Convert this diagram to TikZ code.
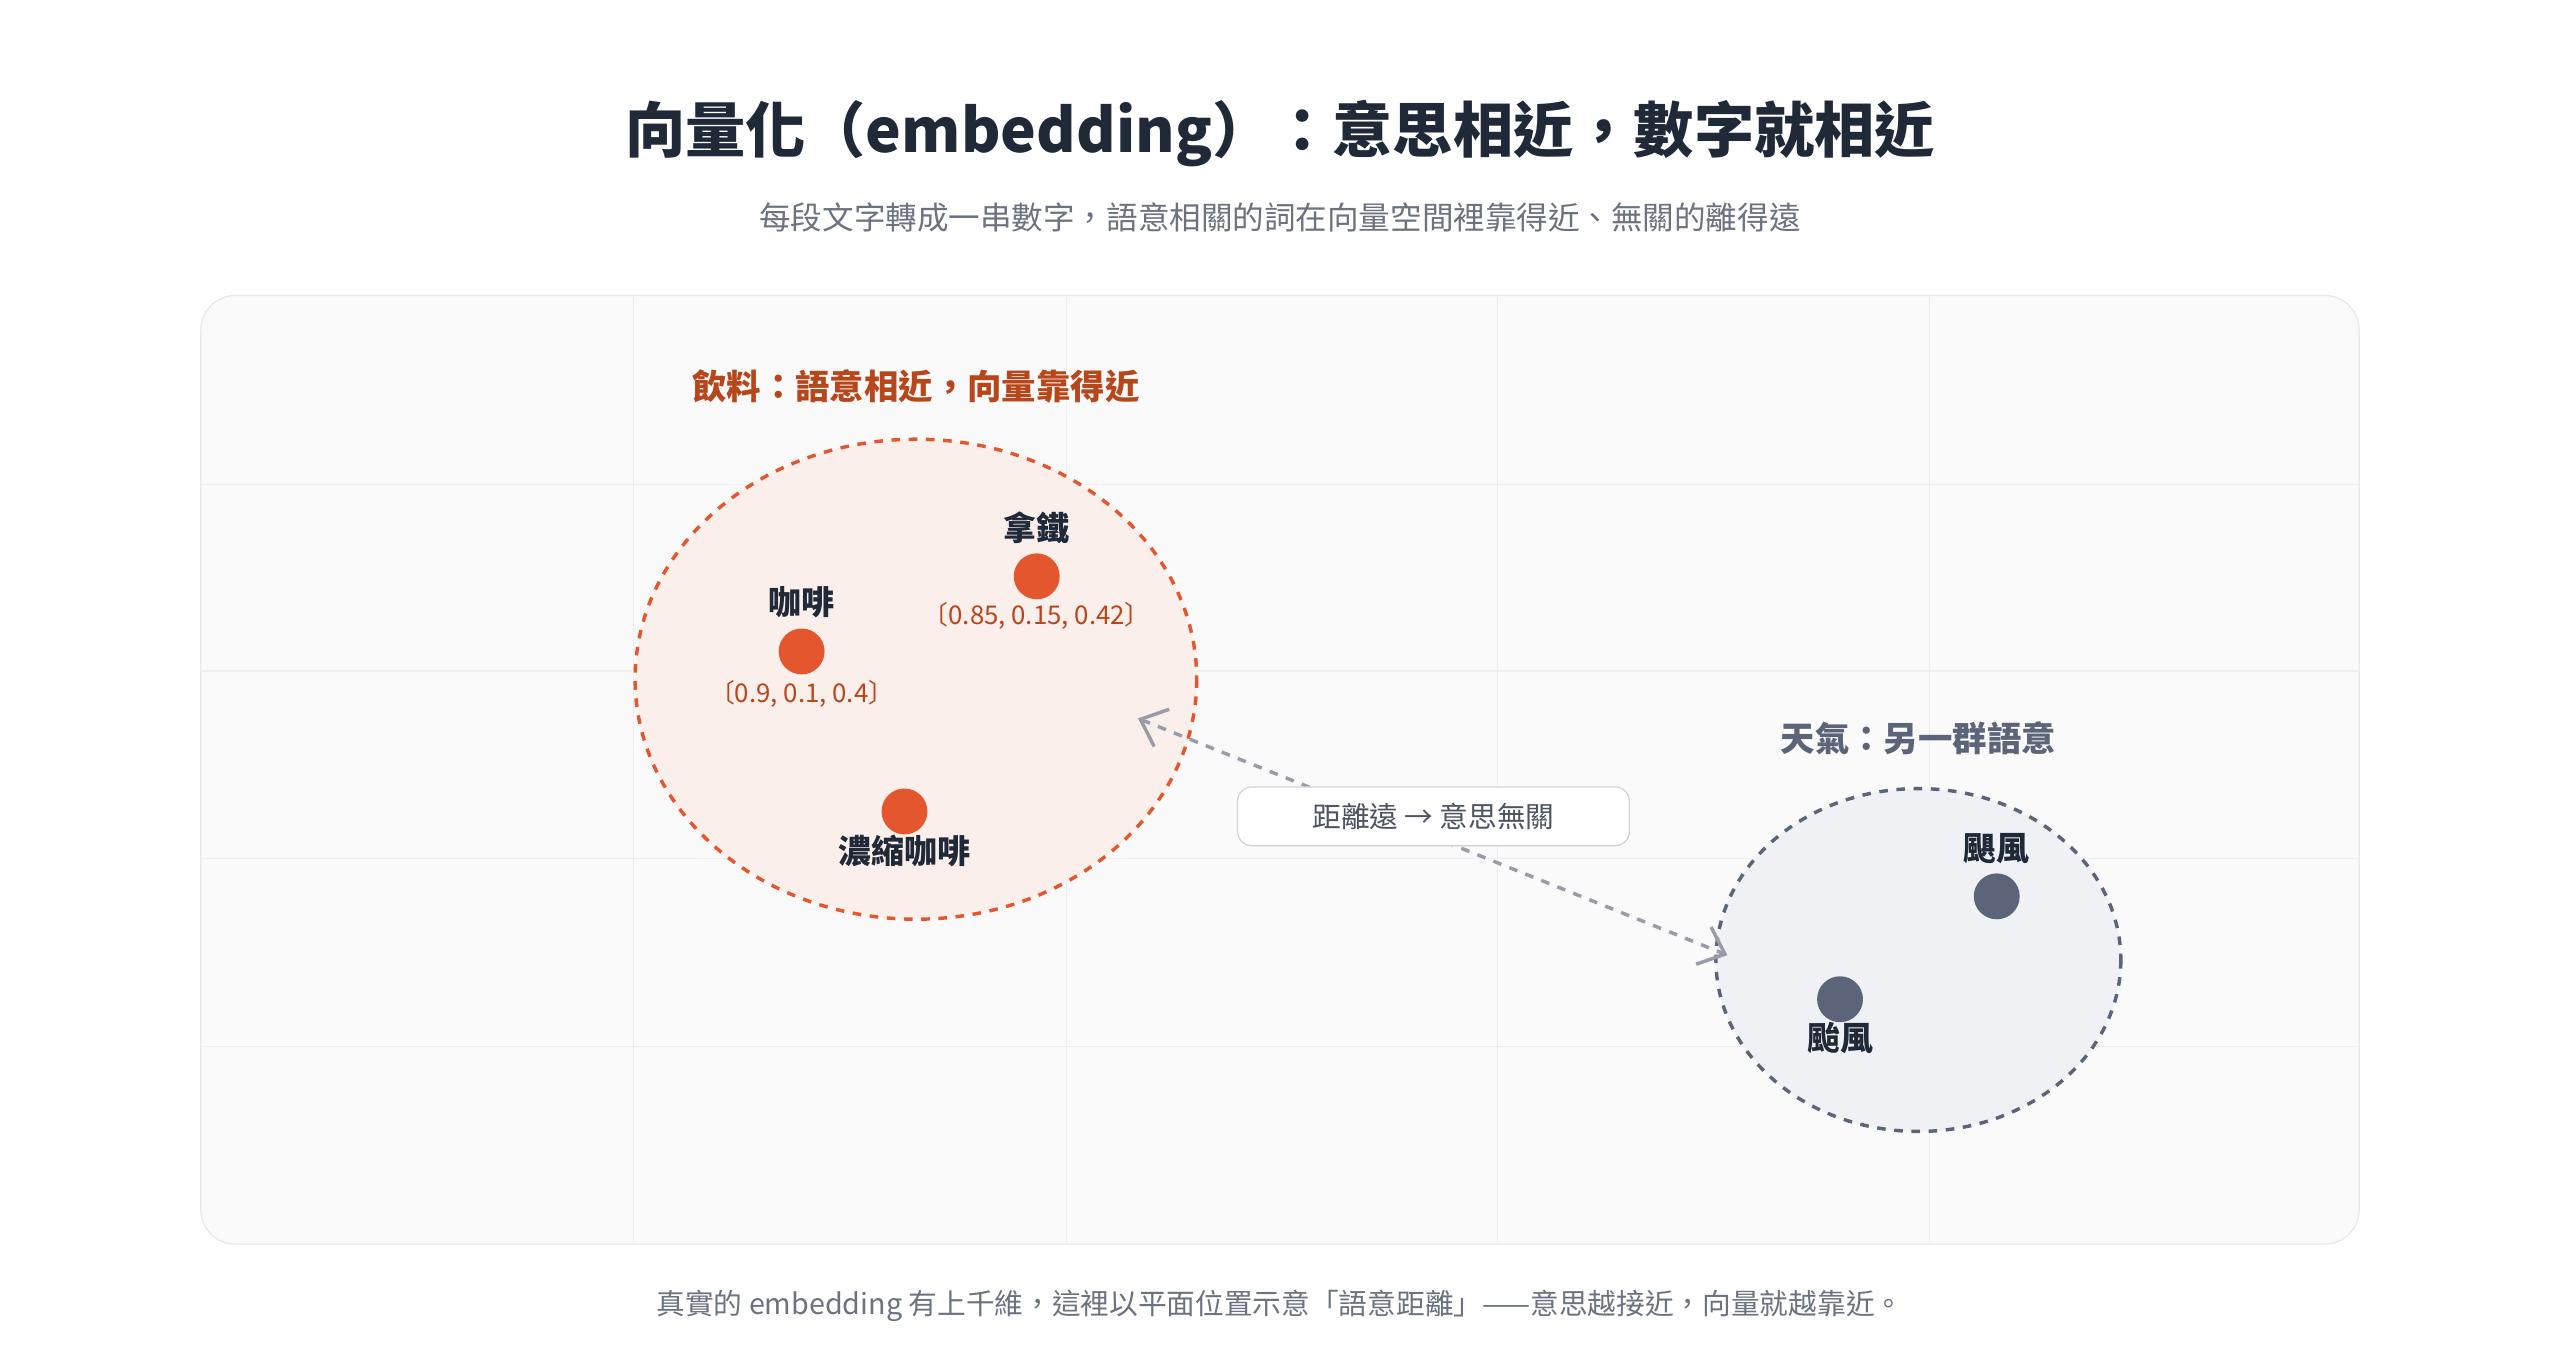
\documentclass[tikz,border=0pt]{standalone}
\usepackage{fontspec}
\setmainfont{Noto Sans CJK TC}
\usetikzlibrary{arrows.meta,calc}
\definecolor{ink}{HTML}{1F2937}
\definecolor{sub}{HTML}{6B7280}
\definecolor{hot}{HTML}{E4572E}
\definecolor{hotdark}{HTML}{B8461B}
\definecolor{hotfill}{HTML}{FBEFEB}
\definecolor{cool}{HTML}{5B6478}
\definecolor{coolfill}{HTML}{EFF1F4}
\definecolor{panel}{HTML}{FAFAFA}
\definecolor{rim}{HTML}{E5E7EB}
\tikzset{
 dot/.style={circle, inner sep=0, minimum size=16},
 word/.style={font=\fontsize{11.5}{12}\selectfont\bfseries, text=ink},
 vec/.style={font=\fontsize{9}{10}\selectfont, text=hotdark}
}
\begin{document}
\begin{tikzpicture}[x=0.02cm,y=-0.02cm]
\useasboundingbox (0,0) rectangle (1568,826);
\fill[white] (0,0) rectangle (1568,826);
\node[font=\fontsize{21}{23}\selectfont\bfseries, text=ink] (title) at (784,82) {向量化（embedding）：意思相近，數字就相近};
\node[font=\fontsize{11}{13}\selectfont, text=sub] (subtitle) at (784,133) {每段文字轉成一串數字，語意相關的詞在向量空間裡靠得近、無關的離得遠};
% panel and grid
\draw[rim, fill=panel, rounded corners=12] (123,181) rectangle (1445,762);
\foreach \x in {388,653,917,1182} {
 \draw[rim!70] (\x,182) --++(0,579);
}
\foreach \y in {297,411,526,641} {
 \draw[rim!70] (124,\y) --++(1320,0);
}
% drinks cluster
\draw[hot, very thick, dashed, fill=hotfill] (561,416) ellipse [x radius=172, y radius=147];
\node[font=\fontsize{12}{13}\selectfont\bfseries, text=hotdark] (drinks) at (561,237) {飲料：語意相近，向量靠得近};
\node[dot, fill=hot] (latte) at (635,353) {};
\node[word] at (635,323) {拿鐵};
\node[vec] at (635,377) {〔0.85, 0.15, 0.42〕};
\node[dot, fill=hot] (coffee) at (491,399) {};
\node[word] at (491,369) {咖啡};
\node[vec] at (491,425) {〔0.9, 0.1, 0.4〕};
\node[dot, fill=hot] (espresso) at (554,497) {};
\node[word] at (554,521) {濃縮咖啡};
% weather cluster
\draw[cool, very thick, dashed, fill=coolfill] (1175,588) ellipse [x radius=124, y radius=105];
\node[font=\fontsize{12}{13}\selectfont\bfseries, text=cool] (weather) at (1175,452) {天氣：另一群語意};
\node[dot, fill=cool] (hurricane) at (1223,549) {};
\node[word] at (1223,520) {颶風};
\node[dot, fill=cool] (typhoon) at (1127,612) {};
\node[word] at (1127,636) {颱風};
% distance arrow
\coordinate (near) at (697,440);
\coordinate (far) at (1058,585);
\draw[sub!70, very thick, dashed, {Straight Barb[length=8pt,width=14pt]}-{Straight Barb[length=8pt,width=14pt]}] (near) -- (far);
\node[draw=rim!80!gray, fill=white, rounded corners=5, minimum width=240*0.02cm, minimum height=36*0.02cm, font=\fontsize{10}{11}\selectfont, text=ink!80] (gap) at (878,500) {距離遠 → 意思無關};
\node[font=\fontsize{10}{11}\selectfont, text=sub] (foot) at (784,800) {真實的 embedding 有上千維，這裡以平面位置示意「語意距離」——意思越接近，向量就越靠近。};
\end{tikzpicture}
\end{document}
